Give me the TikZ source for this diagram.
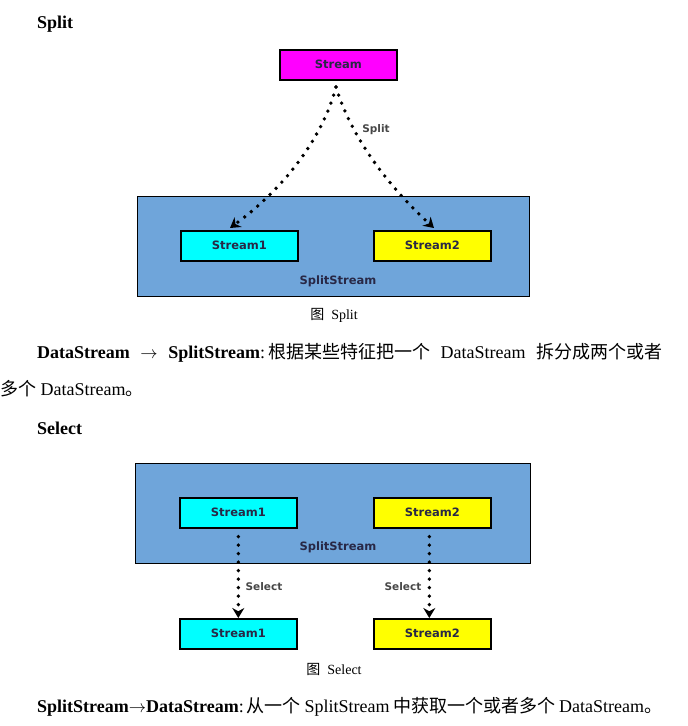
\documentclass[tikz,border=0pt]{standalone}
\usepackage{fontspec}
\setmainfont{Liberation Serif}
\newfontfamily\cjk{Noto Sans CJK SC}
\newfontfamily\boxfont{DejaVu Sans}
\usetikzlibrary{arrows.meta}
\definecolor{splitblue}{RGB}{111,165,218}
\definecolor{magbox}{RGB}{255,0,255}
\definecolor{cyanbox}{RGB}{0,255,255}
\definecolor{yelbox}{RGB}{255,255,0}
\definecolor{boxtext}{RGB}{40,40,70}
\tikzset{
  x=1pt, y=-1pt,
  bigbox/.style={draw=black, line width=1.4pt, fill=splitblue, anchor=north west, inner sep=0pt},
  sbox/.style={draw=black, line width=1.6pt, minimum width=117pt, minimum height=30pt, anchor=north west, inner sep=0pt, font=\boxfont\bfseries\fontsize{11.5}{13}\selectfont, text=boxtext},
  sslbl/.style={font=\boxfont\bfseries\fontsize{11.5}{13}\selectfont, text=boxtext},
  lbl/.style={font=\boxfont\bfseries\fontsize{10.5}{12}\selectfont, text=black!72},
  dotarrow/.style={line width=3.8pt, line cap=round, dash pattern=on 0pt off 8.5pt, -{Stealth[length=10pt,width=12pt,line cap=round]}},
  heading/.style={font=\bfseries\fontsize{18}{21}\selectfont, anchor=base west, inner sep=0pt},
  body/.style={font=\fontsize{18}{21}\selectfont, anchor=base west, inner sep=0pt},
  caption/.style={font=\fontsize{14}{17}\selectfont, anchor=base, inner sep=0pt}
}
\begin{document}
\begin{tikzpicture}
\useasboundingbox (0,0) rectangle (688,726);
\fill[white] (0,0) rectangle (688,726);

% ---- Split section
\node[heading] (hsplit) at (37,28) {Split};
\node[sbox, fill=magbox] (src) at (279,49) {Stream};

\node[bigbox, minimum width=392pt, minimum height=100pt] (ss1) at (137,196) {};
\node[sbox, fill=cyanbox] (a1) at (180,230) {Stream1};
\node[sbox, fill=yelbox] (b1) at (373,230) {Stream2};
\node[sslbl] (ss1l) at (338,281) {SplitStream};

\coordinate (st) at (336,87);
\coordinate (endL) at (230,228);
\coordinate (endR) at (434,228);
\draw[dotarrow] (st) .. controls (322,140) and (282,190) .. (endL);
\draw[dotarrow] (st) .. controls (352,140) and (392,190) .. (endR);
\node[lbl] (splitl) at (376,130) {Split};

\node[caption] (cap1) at (334,319) {{\cjk 图}\hspace{7pt}Split};

\node[body] (t1) at (37,358) {\makebox[625pt][s]{\textbf{DataStream} $\rightarrow$ \textbf{SplitStream}:\,{\cjk 根据某些特征把一个} DataStream {\cjk 拆分成两个或者}}};
\node[body] (t2) at (0,395) {{\cjk 多个} DataStream{\cjk 。}};

% ---- Select section
\node[heading] (hselect) at (37,434) {Select};
\node[bigbox, minimum width=395pt, minimum height=100pt] (ss2) at (135,463) {};
\node[sbox, fill=cyanbox] (a2) at (179,497) {Stream1};
\node[sbox, fill=yelbox] (b2) at (373,497) {Stream2};
\node[sslbl] (ss2l) at (338,547) {SplitStream};

\node[sbox, fill=cyanbox] (a3) at (179,618) {Stream1};
\node[sbox, fill=yelbox] (b3) at (373,618) {Stream2};

\draw[dotarrow] (a2.south) ++(0,8) coordinate (sa) -- (a3.north);
\draw[dotarrow] ([xshift=-3pt]b2.south) ++(0,8) coordinate (sb) -- ([xshift=-3pt]b3.north);
\node[lbl] (sell) at (264,587) {Select};
\node[lbl] (selr) at (403,587) {Select};

\node[caption] (cap2) at (334,674) {{\cjk 图}\hspace{7pt}Select};

\node[body] (t3) at (37,712) {\makebox[625pt][s]{\textbf{SplitStream$\rightarrow$DataStream}:\,{\cjk 从一个} SplitStream {\cjk 中获取一个或者多个} DataStream{\cjk 。}}};
\end{tikzpicture}
\end{document}
